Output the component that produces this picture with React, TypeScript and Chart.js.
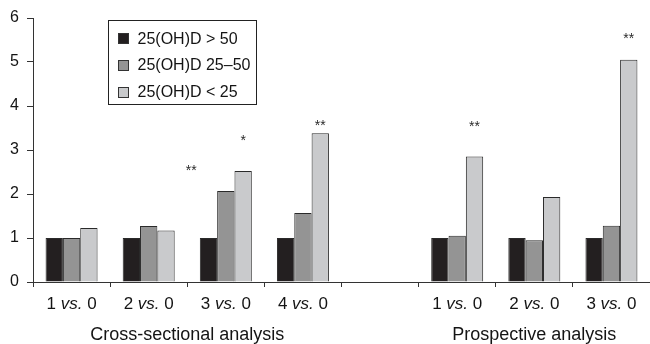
import React, { useEffect, useRef } from "react";
import { Chart, registerables } from "chart.js";

Chart.register(...registerables);

const categories = ["1 vs. 0", "2 vs. 0", "3 vs. 0", "4 vs. 0", "", "1 vs. 0", "2 vs. 0", "3 vs. 0"];
const seriesNames = ["25(OH)D > 50", "25(OH)D 25–50", "25(OH)D < 25"];
const seriesHigh = [1, 1, 1, 1, null, 1, 1, 1];
const seriesMid = [1.0, 1.27, 2.07, 1.57, null, 1.05, 0.95, 1.28];
const seriesLow = [1.23, 1.17, 2.52, 3.38, null, 2.85, 1.93, 5.05];
const seriesColors = ["#231f20", "#949494", "#c9cacc"];
const yMin = 0;
const yMax = 6;
const yStep = 1;
const groupTitles = [
  { title: "Cross-sectional analysis", from: 0, to: 3 },
  { title: "Prospective analysis", from: 5, to: 7 },
];
// significance marks: category index, bar slot (dataset index, may be off-group), value level, text
const significance = [
  { cat: 2, bar: -1, level: 2.62, text: "**" },
  { cat: 2, bar: 2, level: 3.3, text: "*" },
  { cat: 3, bar: 2, level: 3.64, text: "**" },
  { cat: 5, bar: 2, level: 3.62, text: "**" },
  { cat: 7, bar: 2, level: 5.61, text: "**" },
];

const FONT = '"Liberation Sans", Arial, Helvetica, sans-serif';
const INK = "#141414";

const overlayPlugin = {
  id: "overlay",
  afterDraw(chart: any) {
    const ctx = chart.ctx;
    const xs = chart.scales.x;
    const ys = chart.scales.y;
    const area = chart.chartArea;
    ctx.save();
    ctx.fillStyle = INK;
    ctx.textBaseline = "alphabetic";

    // category labels with italic "vs."
    const labelY = area.bottom + 27;
    categories.forEach((lab, i) => {
      if (!lab) return;
      const parts = lab.split("vs.");
      const normalFont = `17px ${FONT}`;
      const italicFont = `italic 17px ${FONT}`;
      ctx.font = normalFont;
      const w1 = ctx.measureText(parts[0]).width;
      const w3 = ctx.measureText(parts[1]).width;
      ctx.font = italicFont;
      const w2 = ctx.measureText("vs.").width;
      const total = w1 + w2 + w3;
      let x = xs.getPixelForValue(i) - total / 2;
      ctx.textAlign = "left";
      ctx.font = normalFont;
      ctx.fillText(parts[0], x, labelY);
      x += w1;
      ctx.font = italicFont;
      ctx.fillText("vs.", x, labelY);
      x += w2;
      ctx.font = normalFont;
      ctx.fillText(parts[1], x, labelY);
    });

    // group titles
    const step = xs.getPixelForValue(1) - xs.getPixelForValue(0);
    ctx.font = `18px ${FONT}`;
    ctx.textAlign = "center";
    groupTitles.forEach((g) => {
      const left = xs.getPixelForValue(g.from) - step / 2;
      const right = xs.getPixelForValue(g.to) + step / 2;
      ctx.fillText(g.title, (left + right) / 2, area.bottom + 58);
    });

    // significance asterisks
    const m0 = chart.getDatasetMeta(0);
    const m1 = chart.getDatasetMeta(1);
    ctx.font = `14px ${FONT}`;
    ctx.fillStyle = "#2a2a2a";
    significance.forEach((s) => {
      const b0 = m0.data[s.cat];
      const b1 = m1.data[s.cat];
      const dx = b1.x - b0.x;
      const x = b0.x + s.bar * dx;
      const y = ys.getPixelForValue(s.level) + 8;
      ctx.fillText(s.text, x, y);
    });

    // legend box
    const lx = 108.5, ly = 20.5, lw = 148, lh = 84;
    ctx.fillStyle = "#ffffff";
    ctx.fillRect(lx, ly, lw, lh);
    ctx.strokeStyle = "#222";
    ctx.lineWidth = 1;
    ctx.strokeRect(lx, ly, lw, lh);
    ctx.font = `16px ${FONT}`;
    ctx.textAlign = "left";
    seriesNames.forEach((name, i) => {
      const cy = 38 + i * 26.8;
      ctx.fillStyle = seriesColors[i];
      ctx.fillRect(118.5, Math.round(cy - 5) + 0.5, 10, 10);
      ctx.strokeStyle = "#333";
      ctx.strokeRect(118.5, Math.round(cy - 5) + 0.5, 10, 10);
      ctx.fillStyle = INK;
      ctx.fillText(name, 137.5, cy + 5.6);
    });
    ctx.restore();
  },
};

export default function App() {
  const canvasRef = useRef<HTMLCanvasElement | null>(null);

  useEffect(() => {
    document.body.style.margin = "0";
    const canvas = canvasRef.current;
    if (!canvas) return;
    const data = [seriesHigh, seriesMid, seriesLow];
    const chart = new Chart(canvas, {
      type: "bar",
      data: {
        labels: categories,
        datasets: data.map((d, i) => ({
          label: seriesNames[i],
          data: d as any,
          backgroundColor: seriesColors[i],
          borderColor: "#2a2a2a",
          borderWidth: 1,
          categoryPercentage: 0.674,
          barPercentage: 1,
        })),
      },
      options: {
        responsive: false,
        animation: false,
        devicePixelRatio: 1,
        layout: { padding: { top: 18, right: 0, left: 0, bottom: 0 } },
        plugins: { legend: { display: false }, tooltip: { enabled: false } },
        scales: {
          x: {
            offset: true,
            grid: {
              display: true,
              offset: true,
              drawOnChartArea: false,
              drawTicks: true,
              tickLength: 5,
              color: "#333",
            },
            border: { display: true, color: "#333", width: 1 },
            ticks: { display: false },
            afterFit: (scale: any) => {
              scale.height = 62;
            },
          },
          y: {
            min: yMin,
            max: yMax,
            grid: {
              display: true,
              drawOnChartArea: false,
              drawTicks: true,
              tickLength: 6,
              color: "#333",
            },
            border: { display: true, color: "#333", width: 1 },
            ticks: {
              stepSize: yStep,
              padding: 8,
              color: INK,
              font: { family: FONT, size: 16 },
            },
            afterFit: (scale: any) => {
              scale.width = 33;
            },
          },
        },
      },
      plugins: [overlayPlugin],
    });
    return () => chart.destroy();
  }, []);

  return (
    <div style={{ width: 650, height: 344, background: "#fff" }}>
      <canvas ref={canvasRef} width={650} height={344} style={{ display: "block" }} />
    </div>
  );
}
